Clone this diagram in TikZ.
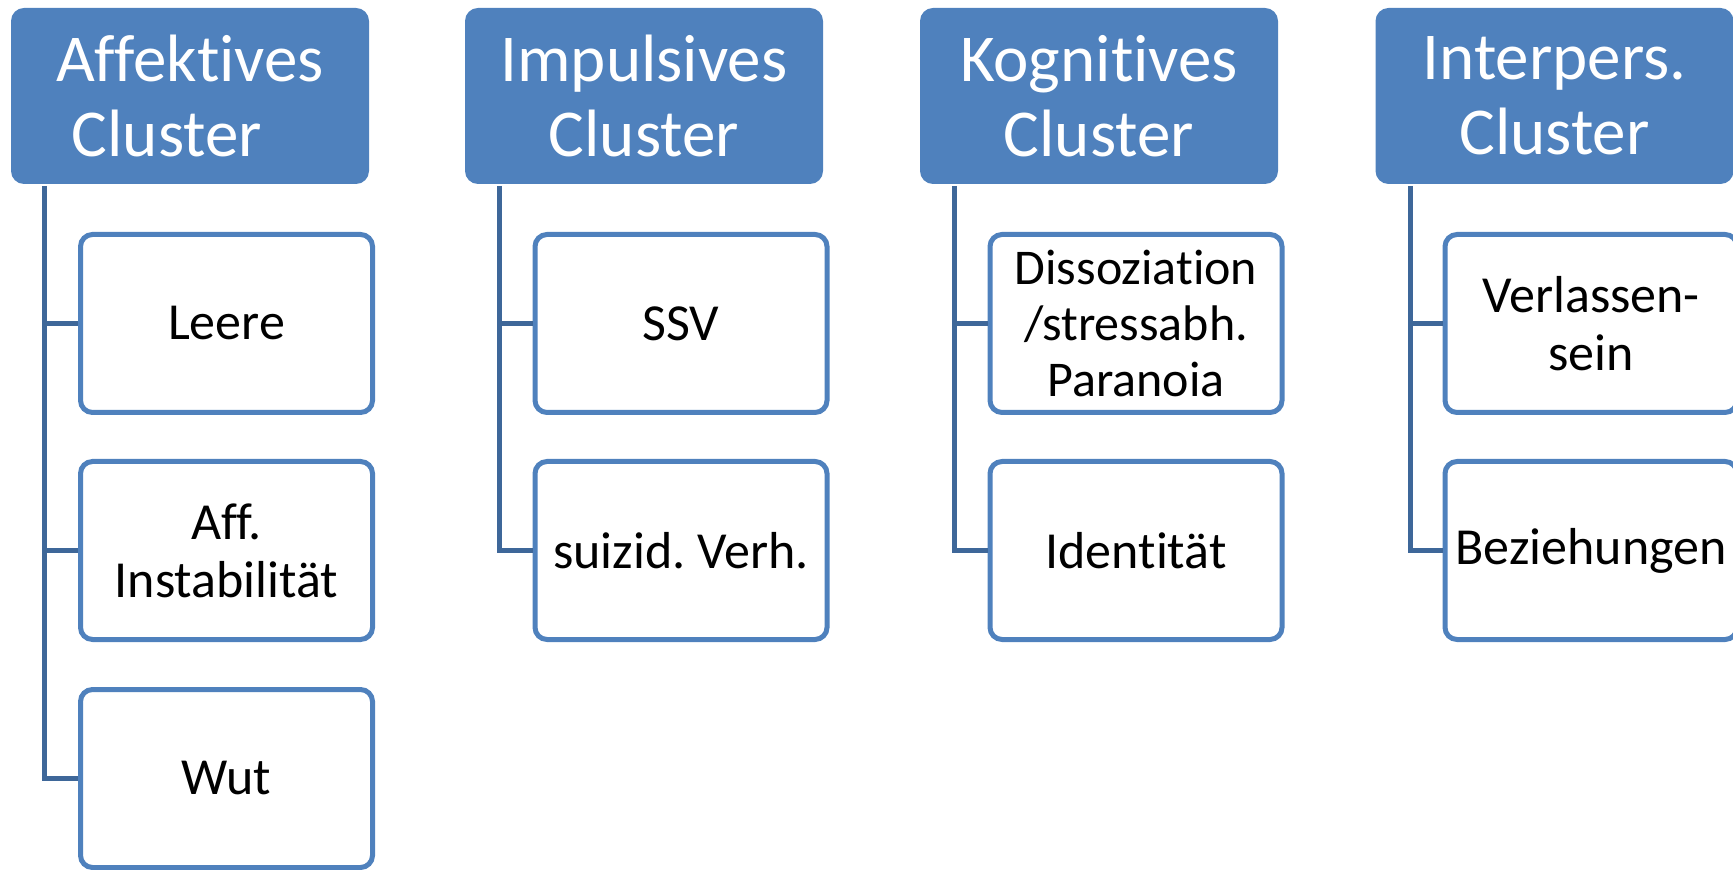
\documentclass[tikz,border=0pt]{standalone}
\usepackage{fontspec}
\setmainfont{Carlito}[Ligatures={NoCommon}]
\frenchspacing
\usetikzlibrary{positioning}
\definecolor{accblue}{HTML}{4F81BD}
\definecolor{linkblue}{HTML}{3E6799}

\begin{document}
\begin{tikzpicture}[
        x=0.5pt, y=-0.5pt,
        cluster/.style={rectangle, rounded corners=6.5pt, fill=accblue, text=white, align=center,
            minimum width=179pt, minimum height=88pt, inner sep=0pt, font=\fontsize{33.5}{37.5}\selectfont},
        item/.style={rectangle, rounded corners=6pt, draw=accblue, line width=2.5pt, fill=white, align=center,
            minimum width=146pt, minimum height=89pt, inner sep=0pt, font=\fontsize{26}{29}\selectfont},
        link/.style={draw=linkblue, line width=2.5pt},
    ]
    \useasboundingbox (0,0) rectangle (1733,870);
    % cluster heads
    \node[cluster] (affc) at (190, 96)    {Affektives\\Cluster\hspace*{23pt}\mbox{}};
    \node[cluster] (impc) at (644, 96)    {Impulsives\\Cluster};
    \node[cluster] (kogc) at (1099, 96)   {Kognitives\\Cluster};
    \node[cluster] (intc) at (1554.5, 96) {Interpers.\\Cluster};
    % items
    \node[item] (leere) at (226.5, 323.5) {Leere};
    \node[item] (affin) at (226.5, 550.5) {Aff.\\Instabilität};
    \node[item] (wut)   at (226.5, 778.5) {Wut};
    \node[item] (ssv)   at (681, 323.5)   {SSV};
    \node[item] (suiz)  at (681, 550.5)   {suizid. Verh.};
    \node[item, font=\fontsize{25}{28}\selectfont] (diss) at (1136, 323.5) {Dissoziation\\/stressabh.\\Paranoia};
    \node[item] (ident) at (1136, 550.5)  {Identität};
    \node[item] (verl)  at (1591, 323.5)  {Verlassen-\\sein};
    \node[item] (bez)   at (1591, 550.5)  {Beziehungen};
    % stems
    \coordinate (affs) at (44.5, 186);
    \coordinate (imps) at (499, 186);
    \coordinate (kogs) at (954.5, 186);
    \coordinate (ints) at (1410, 186);
    \draw[link] (affs) |- (wut.west);
    \draw[link] (affs |- leere.west) -- (leere.west);
    \draw[link] (affs |- affin.west) -- (affin.west);
    \draw[link] (imps) |- (suiz.west);
    \draw[link] (imps |- ssv.west) -- (ssv.west);
    \draw[link] (kogs) |- (ident.west);
    \draw[link] (kogs |- diss.west) -- (diss.west);
    \draw[link] (ints) |- (bez.west);
    \draw[link] (ints |- verl.west) -- (verl.west);
\end{tikzpicture}
\end{document}
